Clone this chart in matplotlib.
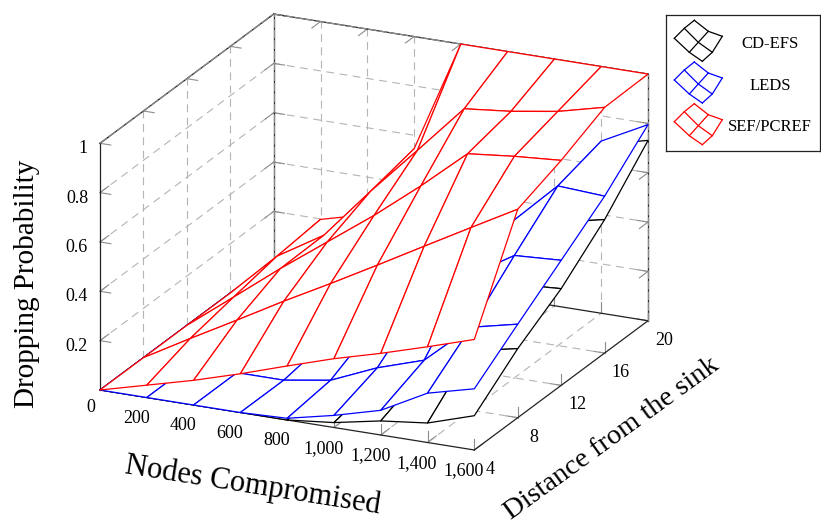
import matplotlib
matplotlib.use('Agg')
import matplotlib.pyplot as plt
import numpy as np
from mpl_toolkits.mplot3d import proj3d

plt.rcParams['font.family'] = ['Liberation Serif', 'DejaVu Serif']

NODES    = [0, 200, 400, 600, 800, 1000, 1200, 1400, 1600]
DISTANCE = [4, 8, 12, 16, 20]
PROB_TICKS = [0.2, 0.4, 0.6, 0.8, 1]

# rows are distance 4, 8, 12, 16, 20; columns follow NODES
CD_EFS = [
    [0, 0, 0, 0, 0.00, 0.020, 0.057, 0.079, 0.139],
    [0, 0, 0, 0, 0.01, 0.057, 0.130, 0.240, 0.280],
    [0, 0, 0, 0, 0.05, 0.120, 0.250, 0.380, 0.392],
    [0, 0, 0, 0.01, 0.08, 0.200, 0.360, 0.500, 0.541],
    [0, 0, 0, 0, 0.03, 0.100, 0.300, 0.685, 0.731],
]
LEDS = [
    [0, 0, 0, 0, 0.007, 0.049, 0.100, 0.200, 0.248],
    [0, 0, 0, 0, 0.030, 0.111, 0.172, 0.336, 0.379],
    [0, 0, 0, 0.03, 0.120, 0.250, 0.380, 0.496, 0.507],
    [0, 0, 0, 0.03, 0.120, 0.280, 0.468, 0.647, 0.636],
    [0, 0, 0, 0, 0.020, 0.110, 0.398, 0.698, 0.795],
]
SEF_PCREF = [
    [0, 0.050, 0.100, 0.157, 0.219, 0.279, 0.331, 0.388, 0.448],
    [0, 0.108, 0.213, 0.320, 0.422, 0.527, 0.634, 0.740, 0.845],
    [0, 0.145, 0.291, 0.429, 0.567, 0.717, 0.878, 0.898, 0.912],
    [0, 0.180, 0.295, 0.504, 0.700, 0.899, 0.919, 0.949, 0.996],
    [0, 0.198, 0.248, 0.545, 1.000, 1.000, 1.000, 1.000, 1.000],
]
SERIES = [('CD-EFS', CD_EFS, 'black'),
          ('LEDS', LEDS, '#0000ff'),
          ('SEF/PCREF', SEF_PCREF, '#ff0000')]

# legend glyph, a small 3x3 mesh in pixels relative to its first corner
ICON_X = [[0, 10, 20], [15, 24, 34], [28, 38, 48]]
ICON_Y = [[0, -10, -18], [14, 4, -7], [23, 14, -2]]

GRID = '#b4b4b4'
TICK = '#8c8c8c'
W, H = 821, 527
X0 = 1600
Y0, Y1 = 4, 20

fig = plt.figure(figsize=(W / 100, H / 100), dpi=100)
ax = fig.add_axes([0, 0, 1, 1], projection='3d', computed_zorder=False)
ax.set_proj_type('ortho')
ax.view_init(elev=20.2, azim=-65.1)
ax.set_box_aspect((1, 1, 0.637))
ax.set_xlim(0, X0)
ax.set_ylim(Y0, Y1)
ax.set_zlim(0, 1)
ax.set_axis_off()


def line(xs, ys, zs, **kw):
    ax.plot(xs, ys, zs, zorder=1, **kw)


grid_kw = dict(color=GRID, lw=0.8, dashes=(7, 5))
for x in NODES[1:-1]:
    line([x, x], [Y0, Y1], [0, 0], **grid_kw)
    line([x, x], [Y1, Y1], [0, 1], **grid_kw)
for y in DISTANCE[1:-1]:
    line([0, X0], [y, y], [0, 0], **grid_kw)
    line([0, 0], [y, y], [0, 1], **grid_kw)
for z in PROB_TICKS[:-1]:
    line([0, 0], [Y0, Y1], [z, z], **grid_kw)
    line([0, X0], [Y1, Y1], [z, z], **grid_kw)

# short solid ticks where the grid meets the box
DX, DY, DZ = 46, 0.8, 0.045
tick_kw = dict(color=TICK, lw=0.8)
for x in NODES[1:]:
    line([x, x], [Y0, Y0], [0, DZ], **tick_kw)
    line([x, x], [Y0, Y0 + DY], [0, 0], **tick_kw)
    line([x, x], [Y1, Y1 - DY], [1, 1], **tick_kw)
    line([x, x], [Y1, Y1], [0, DZ], **tick_kw)
for y in DISTANCE[1:]:
    line([X0, X0], [y, y], [0, DZ], **tick_kw)
    line([X0, X0 - DX], [y, y], [0, 0], **tick_kw)
    line([0, DX], [y, y], [1, 1], **tick_kw)
for z in PROB_TICKS:
    line([0, DX], [Y0, Y0], [z, z], **tick_kw)
    line([0, 0], [Y0, Y0 + DY], [z, z], **tick_kw)
    line([0, DX], [Y1, Y1], [z, z], **tick_kw)
    line([0, 0], [Y1, Y1 - DY], [z, z], **tick_kw)
    line([X0, X0 - DX], [Y1, Y1], [z, z], **tick_kw)
    line([X0, X0], [Y1, Y1 - DY], [z, z], **tick_kw)

# box edges
edge_kw = dict(color='#222222', lw=0.9)
line([0, 0], [Y0, Y0], [0, 1], **edge_kw)
line([0, X0], [Y0, Y0], [0, 0], **edge_kw)
line([X0, X0], [Y0, Y1], [0, 0], **edge_kw)
line([0, X0], [Y1, Y1], [0, 0], **edge_kw)
line([0, 0], [Y0, Y1], [0, 0], **edge_kw)
line([0, 0], [Y0, Y1], [1, 1], **edge_kw)
line([0, 0], [Y1, Y1], [0, 1], **edge_kw)
line([0, X0], [Y1, Y1], [1, 1], **edge_kw)
line([X0, X0], [Y1, Y1], [0, 1], **edge_kw)
back_kw = dict(color=TICK, lw=0.9, dashes=(7, 1.5))
line([0, 0], [Y0, Y1], [1, 1], **back_kw)
line([0, 0], [Y1, Y1], [0, 1], **back_kw)
line([0, X0], [Y1, Y1], [1, 1], **back_kw)
line([X0, X0], [Y1, Y1], [0, 1], **back_kw)

xx, yy = np.meshgrid(NODES, DISTANCE)
for i, (name, values, color) in enumerate(SERIES):
    ax.plot_surface(xx, yy, np.array(values), rstride=1, cstride=1,
                    color='white', edgecolor=color, linewidth=0.9,
                    shade=False, zorder=2 + i)


def to_pixels(x, y, z):
    px, py, _ = proj3d.proj_transform(x, y, z, ax.get_proj())
    return ax.transData.transform((px, py))


# scale and shift the axes so the box lands where it should
fig.canvas.draw()
pos = ax.get_position()
scale = (to_pixels(X0, Y0, 0)[0] - to_pixels(0, Y0, 0)[0]) / 374.3
ax.set_position([pos.x0, pos.y0, pos.width / scale, pos.height / scale])
fig.canvas.draw()
pos = ax.get_position()
origin = to_pixels(0, Y0, 0)
ax.set_position([pos.x0 + (100 - origin[0]) / W,
                 pos.y0 + (H - 390 - origin[1]) / H,
                 pos.width, pos.height])
fig.canvas.draw()


def tick_label(x, y, z, text, dx, dy, ha='center'):
    px, py = to_pixels(x, y, z)
    fig.text((px + dx) / W, (py - dy) / H, text, ha=ha, va='center', fontsize=13)


for x in NODES[1:]:
    tick_label(x, Y0, 0, f'{x:,}', -10.5, 21)
tick_label(0, Y0, 0, '0', -9, 17)
for y in DISTANCE:
    tick_label(X0, y, 0, str(y), 16, 19.5)
for z in PROB_TICKS:
    tick_label(0, Y0, z, f'{z:g}', -12, 5.5, ha='right')

# axis titles
fig.text(27 / W, 1 - 284 / H, 'Dropping Probability', rotation=90,
         ha='center', va='center', fontsize=21)
fig.text(253 / W, 1 - 486 / H, 'Nodes Compromised', rotation=-9,
         ha='center', va='center', fontsize=22, rotation_mode='anchor')
fig.text(612 / W, 1 - 439 / H, 'Distance from the sink', rotation=36,
         ha='center', va='center', fontsize=20.5, rotation_mode='anchor')

# legend
leg = fig.add_axes([665.5 / W, 1 - 151 / H, (820 - 665.5) / W, 136 / H])
leg.set_xlim(665.5, 820)
leg.set_ylim(151, 15)
leg.set_xticks([])
leg.set_yticks([])
for spine in leg.spines.values():
    spine.set_linewidth(0.9)
    spine.set_color('#222222')
icon_x = np.array(ICON_X)
icon_y = np.array(ICON_Y)
for i, (name, values, color) in enumerate(SERIES):
    x0, y0 = 674.3, 38.3 + i * 41.7
    leg.plot(x0 + icon_x, y0 + icon_y, color=color, lw=0.9)
    leg.plot(x0 + icon_x.T, y0 + icon_y.T, color=color, lw=0.9)
    leg.text(770, 44 + i * 41.6, name, ha='center', va='center', fontsize=12)

fig.savefig('out.png', dpi=100)
